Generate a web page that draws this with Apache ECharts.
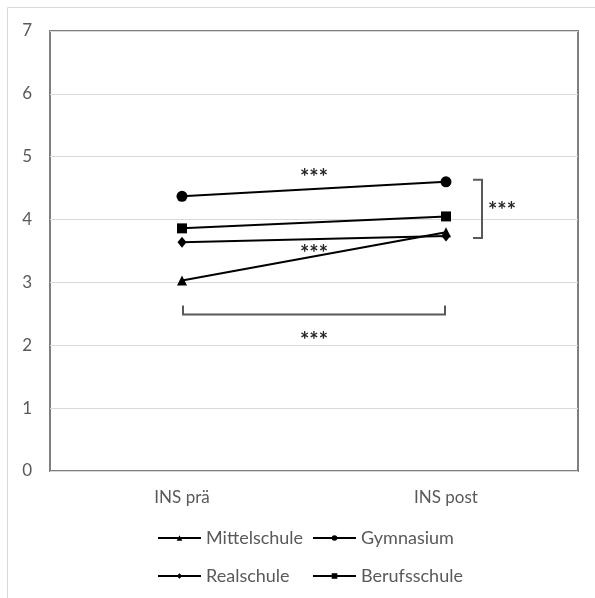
<!DOCTYPE html>
<html>
<head>
<meta charset="utf-8">
<script src="https://cdn.jsdelivr.net/npm/echarts@6/dist/echarts.min.js"></script>
<style>
  html, body { margin: 0; background: #fff; }
  #chart { width: 595px; height: 598px; }
</style>
</head>
<body>
<div id="chart"></div>
<script>
// Kategorien und Mittelwerte je Schulart
const categories = ['INS prä', 'INS post'];
const mittelschule = [3.03, 3.80];
const gymnasium = [4.37, 4.60];
const realschule = [3.64, 3.74];
const berufsschule = [3.86, 4.05];

// Signifikanz-Markierungen (y-Werte in Achseneinheiten)
const sigTopY = 4.75;
const sigMidY = 3.54;
const sigBracketY = 2.49;
const sigBottomY = 2.15;
const sigText = '***';

const textColor = '#595959';
const font = 'Lato, "Open Sans", sans-serif';

const chart = echarts.init(document.getElementById('chart'), null, { renderer: 'canvas' });

function lineSeries(name, data, symbol, size) {
  return {
    name,
    type: 'line',
    data,
    symbol,
    symbolSize: size,
    showAllSymbol: true,
    lineStyle: { color: '#000', width: 2 },
    itemStyle: { color: '#000' },
    emphasis: { disabled: true },
    animation: false,
  };
}

const legendBase = {
  orient: 'vertical',
  top: 529,
  padding: 0,
  itemWidth: 43,
  itemHeight: 7,
  itemGap: 20,
  textStyle: { color: textColor, fontSize: 18, fontFamily: font, lineHeight: 18 },
  selectedMode: false,
};

chart.setOption({
  animation: false,
  grid: {
    left: 50, right: 17, top: 31, bottom: 127,
    show: true, borderColor: '#7f7f7f', borderWidth: 2,
  },
  xAxis: {
    type: 'category',
    data: categories,
    boundaryGap: true,
    axisLine: { show: false },
    axisTick: { show: false },
    axisLabel: { color: textColor, fontSize: 17, fontFamily: font, margin: 18 },
  },
  yAxis: {
    type: 'value',
    min: 0, max: 7, interval: 1,
    axisLine: { show: false },
    axisTick: { show: false },
    splitLine: { lineStyle: { color: '#d9d9d9', width: 1 } },
    axisLabel: { color: textColor, fontSize: 17, fontFamily: font, margin: 18 },
  },
  legend: [
    Object.assign({}, legendBase, { left: 157, data: ['Mittelschule', 'Realschule'] }),
    Object.assign({}, legendBase, { left: 312, data: ['Gymnasium', 'Berufsschule'] }),
  ],
  series: [
    lineSeries('Mittelschule', mittelschule, 'triangle', 10),
    lineSeries('Gymnasium', gymnasium, 'circle', 11),
    lineSeries('Realschule', realschule, 'diamond', [9, 11]),
    lineSeries('Berufsschule', berufsschule, 'rect', 10),
  ],
});

// Annotationen an den Achsen ausrichten
function px(idx, val) {
  return chart.convertToPixel({ gridIndex: 0 }, [idx, val]);
}

const pre = px(0, 0)[0];
const post = px(1, 0)[0];
const mid = (pre + post) / 2;
const starStyle = { text: sigText, fill: '#262626', fontSize: 22, fontWeight: 'bold', fontFamily: font, align: 'center', verticalAlign: 'middle' };
const bracketStyle = { stroke: '#595959', lineWidth: 2, fill: null };

const yTop = px(1, gymnasium[1])[1];
const yBot = px(1, realschule[1])[1];
const yBr = px(0, sigBracketY)[1];
const xr = post + 36;

chart.setOption({
  graphic: [
    // äußerer Rahmen
    { type: 'polyline', shape: { points: [[7.5, 620], [7.5, 7.5], [620, 7.5]] }, style: { stroke: '#d9d9d9', lineWidth: 1, fill: null }, silent: true },
    { type: 'text', x: mid, y: px(0, sigTopY)[1] + 5, style: starStyle, silent: true },
    { type: 'text', x: mid, y: px(0, sigMidY)[1] + 5, style: starStyle, silent: true },
    { type: 'text', x: mid, y: px(0, sigBottomY)[1] + 5, style: starStyle, silent: true },
    { type: 'polyline', shape: { points: [[pre + 1, yBr - 9], [pre + 1, yBr], [post - 1, yBr], [post - 1, yBr - 9]] }, style: bracketStyle, silent: true },
    { type: 'polyline', shape: { points: [[xr - 9, yTop - 2], [xr, yTop - 2], [xr, yBot + 2], [xr - 9, yBot + 2]] }, style: bracketStyle, silent: true },
    { type: 'text', x: xr + 20, y: (yTop + yBot) / 2 + 2, style: starStyle, silent: true },
  ],
});
</script>
</body>
</html>
